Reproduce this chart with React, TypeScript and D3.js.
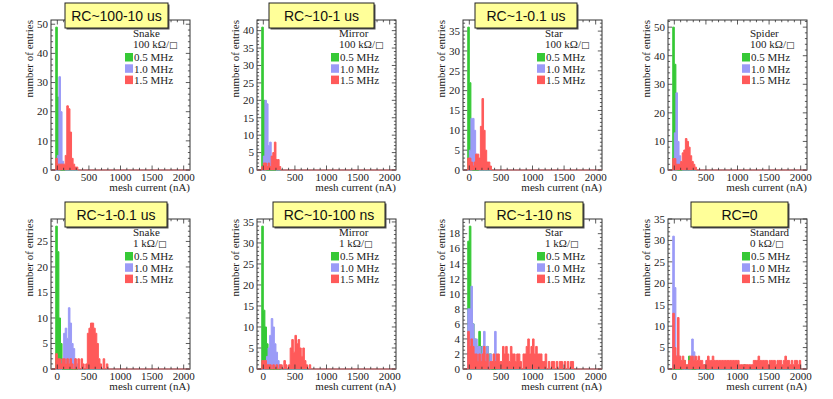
import React from "react";
import * as d3 from "d3";

// ---------- data ----------
const BIN_WIDTH = 25; // nA
const BIN_LO = -25; // first value of every series is the bin [-25, 0)
const X_DOMAIN: [number, number] = [-100, 2100];
const xTickLabels = [0, 500, 1000, 1500, 2000];

const panelTitles = ["RC~100-10 us", "RC~10-1 us", "RC~1-0.1 us", "", "RC~1-0.1 us", "RC~10-100 ns", "RC~1-10 ns", "RC=0"];
const patterns = ["Snake", "Mirror", "Star", "Spider", "Snake", "Mirror", "Star", "Standard"];
const resistivities = ["100 kΩ/", "100 kΩ/", "100 kΩ/", "100 kΩ/", "1 kΩ/", "1 kΩ/", "1 kΩ/", "0 kΩ/"];
const frequencies = ["0.5 MHz", "1.0 MHz", "1.5 MHz"];
const yMax = [51.45, 43.05, 37.8, 52.5, 29.4, 35.7, 19.95, 35];
const yMajorStep = [10, 5, 5, 10, 5, 5, 2, 5];
const yMinorDiv = [5, 5, 5, 5, 5, 5, 4, 5];

const green05 = [
  [49, 25, 5],
  [41, 20, 4],
  [36, 22, 5],
  [50, 37, 5],
  [28, 23, 10, 5],
  [34, 14, 10, 6, 2],
  [17, 19, 8, 6, 4, 3, 3, 5, 3, 3, 2, 2, 3, 2, 2],
  [0, 0, 0, 0, 0, 0, 0, 2, 0, 0, 3, 1, 0, 0, 0, 0, 0, 0, 0, 0, 1, 0, 0, 0, 0, 0, 0, 0, 0, 0, 0, 0, 0, 0, 0, 0, 0, 0, 0, 0, 0, 0, 0, 0, 0, 1],
];
const blue10 = [
  [0, 5, 32, 20, 3, 1],
  [0, 4, 20, 19, 7, 8, 3, 2, 1],
  [0, 5, 13, 13, 10, 4, 1],
  [0, 13, 27, 10, 5, 2],
  [0, 1, 0, 0, 2, 7, 8, 6, 12, 9, 5, 4, 2, 1],
  [0, 0, 2, 3, 5, 8, 12, 10, 6, 4, 2, 1],
  [8, 8, 11, 6, 4, 4, 3, 3, 2, 3, 5, 2, 3, 1, 2, 1, 1, 5],
  [31, 19, 3, 1, 3, 1, 0, 0, 0, 0, 1, 2, 7, 4, 1, 0, 0, 0, 0, 0, 0, 2, 1],
];
const red15 = [
  [4, 2, 2, 2, 2, 2, 5, 22, 21, 13, 4, 2, 1, 1],
  [1, 2, 2, 1, 2, 1, 4, 5, 8, 3, 3, 1],
  [3, 3, 2, 1, 2, 4, 4, 3, 11, 18, 10, 5, 2, 2, 1],
  [4, 4, 2, 2, 2, 3, 6, 7, 11, 10, 8, 5, 3, 2, 1],
  [3, 2, 2, 1, 2, 2, 1, 2, 1, 2, 1, 0, 2, 0, 2, 0, 2, 1, 0, 1, 7, 8, 9, 9, 8, 7, 5, 2, 1, 0, 2, 0, 1],
  [2, 2, 2, 1, 1, 1, 0, 1, 0, 1, 0, 1, 1, 0, 2, 1, 0, 1, 5, 7, 4, 8, 6, 7, 5, 3, 5, 2, 1, 0, 1],
  [5, 3, 4, 3, 2, 2, 1, 2, 1, 2, 3, 1, 2, 0, 1, 1, 2, 1, 2, 2, 1, 1, 3, 2, 3, 2, 1, 3, 2, 2, 1, 2, 2, 1, 0, 2, 2, 3, 4, 2, 3, 4, 2, 3, 2, 2, 2, 1, 1, 2, 0, 1, 0, 1, 1, 0, 1, 0, 1, 1, 0, 1, 0, 1, 0, 1, 1],
  [13, 5, 3, 12, 3, 2, 3, 2, 1, 1, 2, 3, 3, 2, 3, 2, 3, 2, 2, 1, 1, 2, 3, 2, 2, 3, 2, 2, 2, 2, 2, 2, 2, 2, 2, 2, 2, 2, 2, 2, 2, 2, 1, 1, 1, 1, 1, 1, 1, 1, 1, 2, 2, 2, 3, 2, 2, 2, 2, 2, 1, 2, 2, 2, 2, 1, 2, 2, 2, 1, 2, 3, 2, 2, 1, 2, 1, 2, 2, 1, 2],
];

// ---------- layout / style ----------
const COL_LEFT = [51, 257, 463, 668];
const ROW_TOP = [20, 219];
const FRAME_W = 139;
const FRAME_H = 150;
const TITLE_BOX: ([number, number] | null)[] = [[14, 117], [12, 117], [12, 114], null, [14, 116], [16, 128], [22, 120], [23, 120]];
const COLORS = ["#36c936", "#9b9bf7", "#ff5a5a"];
const SERIF = "'Liberation Serif', 'DejaVu Serif', serif";
const SANS = "'Liberation Sans', Arial, sans-serif";
const AXIS_COLOR = "#333";

type Pt = { x0: number; c: number };

function fullBins(counts: number[]): Pt[] {
  const n = Math.round((X_DOMAIN[1] - X_DOMAIN[0]) / BIN_WIDTH);
  const off = Math.round((BIN_LO - X_DOMAIN[0]) / BIN_WIDTH);
  const pts: Pt[] = [];
  for (let k = 0; k < n; k++) pts.push({ x0: X_DOMAIN[0] + k * BIN_WIDTH, c: counts[k - off] ?? 0 });
  pts.push({ x0: X_DOMAIN[1], c: 0 });
  return pts;
}

function Panel({ idx }: { idx: number }) {
  const col = idx % 4;
  const row = Math.floor(idx / 4);
  const L = COL_LEFT[col];
  const T = ROW_TOP[row];
  const R = L + FRAME_W;
  const B = T + FRAME_H;
  const x = d3.scaleLinear().domain(X_DOMAIN).range([L, R]);
  const y = d3.scaleLinear().domain([0, yMax[idx]]).range([B, T]);

  const area = d3.area<Pt>().x((d) => x(d.x0)).y0(y(0)).y1((d) => y(d.c)).curve(d3.curveStepAfter);
  const line = d3.line<Pt>().x((d) => x(d.x0)).y((d) => y(d.c)).curve(d3.curveStepAfter);
  const series = [green05[idx], blue10[idx], red15[idx]];

  const xMinor = d3.range(0, 2001, 100);
  const yStep = yMajorStep[idx];
  const yMajor = d3.range(0, yMax[idx] + 1e-9, yStep);
  const yMinor = d3.range(0, yMax[idx] + 1e-9, yStep / yMinorDiv[idx]);
  const tx = 4.5, ty = 4.2;

  const tb = TITLE_BOX[idx];
  return (
    <g>
      <rect x={L} y={T} width={FRAME_W} height={FRAME_H} fill="#fff" stroke={AXIS_COLOR} strokeWidth={1} />
      {series.map((s, i) => {
        const pts = fullBins(s);
        return (
          <g key={i}>
            <path d={area(pts) || ""} fill={COLORS[i]} />
            <path d={line(pts) || ""} fill="none" stroke={COLORS[i]} strokeWidth={1} />
          </g>
        );
      })}
      {xMinor.map((v) => {
        const major = v % 500 === 0;
        const len = major ? tx : tx / 2;
        return (
          <g key={"x" + v} stroke={AXIS_COLOR} strokeWidth={0.8}>
            <line x1={x(v)} x2={x(v)} y1={B} y2={B - len} />
            <line x1={x(v)} x2={x(v)} y1={T} y2={T + len} />
          </g>
        );
      })}
      {yMinor.map((v, k) => {
        const major = k % yMinorDiv[idx] === 0;
        const len = major ? ty : ty / 2;
        return (
          <g key={"y" + k} stroke={AXIS_COLOR} strokeWidth={0.8}>
            <line x1={L} x2={L + len} y1={y(v)} y2={y(v)} />
            <line x1={R} x2={R - len} y1={y(v)} y2={y(v)} />
          </g>
        );
      })}
      {xTickLabels.map((v) => (
        <text key={"xl" + v} x={x(v)} y={B + 10.5} textAnchor="middle" fontFamily={SERIF} fontSize={11} fill="#222">
          {v}
        </text>
      ))}
      {yMajor.map((v) => (
        <text key={"yl" + v} x={L - 3} y={y(v) + 3.8} textAnchor="end" fontFamily={SERIF} fontSize={11} fill="#222">
          {v}
        </text>
      ))}
      <text x={R} y={B + 21} textAnchor="end" fontFamily={SERIF} fontSize={11} fill="#222">
        mesh current (nA)
      </text>
      <text transform={`translate(${L - 18},${T}) rotate(-90)`} textAnchor="end" fontFamily={SERIF} fontSize={11} fill="#222">
        number of entries
      </text>
      <text x={L + 82} y={T + 17} fontFamily={SERIF} fontSize={11} fill="#222">
        {patterns[idx]}
      </text>
      <text x={L + 82} y={T + 28} fontFamily={SERIF} fontSize={11} fill="#222">
        {resistivities[idx]}
        <tspan fontFamily="'DejaVu Sans', sans-serif" fontSize={9}>□</tspan>
      </text>
      {frequencies.map((f, k) => (
        <g key={f}>
          <rect x={L + 74} y={T + 33 + k * 11.3} width={8} height={8.5} fill={COLORS[k]} />
          <text x={L + 83} y={T + 41.3 + k * 11.3} fontFamily={SERIF} fontSize={11} fill="#222">
            {f}
          </text>
        </g>
      ))}
      {tb && (
        <g>
          <rect x={L + tb[0] + 1.5} y={T - 17 + 1.5} width={tb[1] - tb[0]} height={25} fill="#555" />
          <rect x={L + tb[0]} y={T - 17} width={tb[1] - tb[0]} height={25} fill="#ffff99" stroke="#222" strokeWidth={1} />
          <text x={L + (tb[0] + tb[1]) / 2} y={T - 17 + 17.5} textAnchor="middle" fontFamily={SANS} fontSize={14} fill="#111">
            {panelTitles[idx]}
          </text>
        </g>
      )}
    </g>
  );
}

export default function App() {
  return (
    <svg width={833} height={399} style={{ position: "absolute", left: 0, top: 0, background: "#fff" }}>
      <rect width={833} height={399} fill="#fff" />
      {d3.range(8).map((i) => (
        <Panel key={i} idx={i} />
      ))}
    </svg>
  );
}
